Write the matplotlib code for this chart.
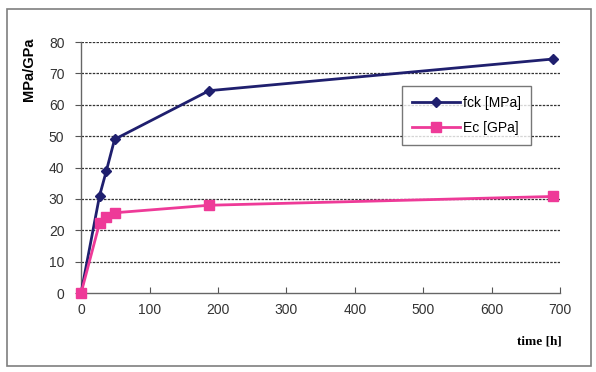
import matplotlib
matplotlib.use("Agg")
import matplotlib.pyplot as plt
from matplotlib.patches import Rectangle

# values
time_h = [0, 27, 37, 49, 187, 690]
fck_mpa = [0, 31, 39, 49, 64.5, 74.6]
ec_gpa = [0, 22.3, 24.4, 25.6, 28.0, 30.8]
y_ticks = [0, 10, 20, 30, 40, 50, 60, 70, 80]
x_ticks = [0, 100, 200, 300, 400, 500, 600, 700]

plt.rcParams["font.family"] = ["Liberation Sans", "DejaVu Sans"]

fig = plt.figure(figsize=(5.96, 3.72), dpi=100)
ax = fig.add_axes([0.136, 0.212, 0.804, 0.675])

# outer chart frame
fig.patches.append(Rectangle((0.012, 0.015), 0.98, 0.96, transform=fig.transFigure,
                             fill=False, edgecolor="#7f7f7f", linewidth=1.2))

ax.plot(time_h, fck_mpa, color="#1f1f6e", lw=2, marker="D", ms=5,
        label="fck [MPa]", clip_on=False, zorder=3)
ax.plot(time_h, ec_gpa, color="#ee3a98", lw=2, marker="s", ms=6.5,
        label="Ec [GPa]", clip_on=False, zorder=4)

ax.set_xlim(0, 700)
ax.set_ylim(0, 80)
ax.set_xticks(x_ticks)
ax.set_yticks(y_ticks)
ax.tick_params(axis="x", direction="in", length=4, color="#555555", labelsize=10,
               labelcolor="#333333", pad=7)
ax.tick_params(axis="y", direction="out", length=4, color="#555555", labelsize=10,
               labelcolor="#333333", pad=8)

for y in y_ticks[1:]:
    ax.axhline(y, color="#333333", lw=0.9, ls=(0, (2, 1)), zorder=0)

for s in ["top", "right"]:
    ax.spines[s].set_visible(False)
for s in ["left", "bottom"]:
    ax.spines[s].set_color("#666666")
    ax.spines[s].set_linewidth(1.0)

fig.text(0.048, 0.815, "MPa/GPa", fontsize=10.5, fontweight="bold",
         rotation=90, ha="center", va="center")
fig.text(0.943, 0.082, "time [h]", fontsize=9.5, fontweight="bold",
         family="Liberation Serif", ha="right", va="center")

leg = ax.legend(loc="upper left", bbox_to_anchor=(0.67, 0.825), fontsize=10,
                frameon=True, fancybox=False, edgecolor="#555555",
                handlelength=3.5, borderpad=0.7, labelspacing=0.8, handletextpad=0.2,
                borderaxespad=0)
leg.get_frame().set_linewidth(1.0)

fig.savefig("out.png", dpi=100)
